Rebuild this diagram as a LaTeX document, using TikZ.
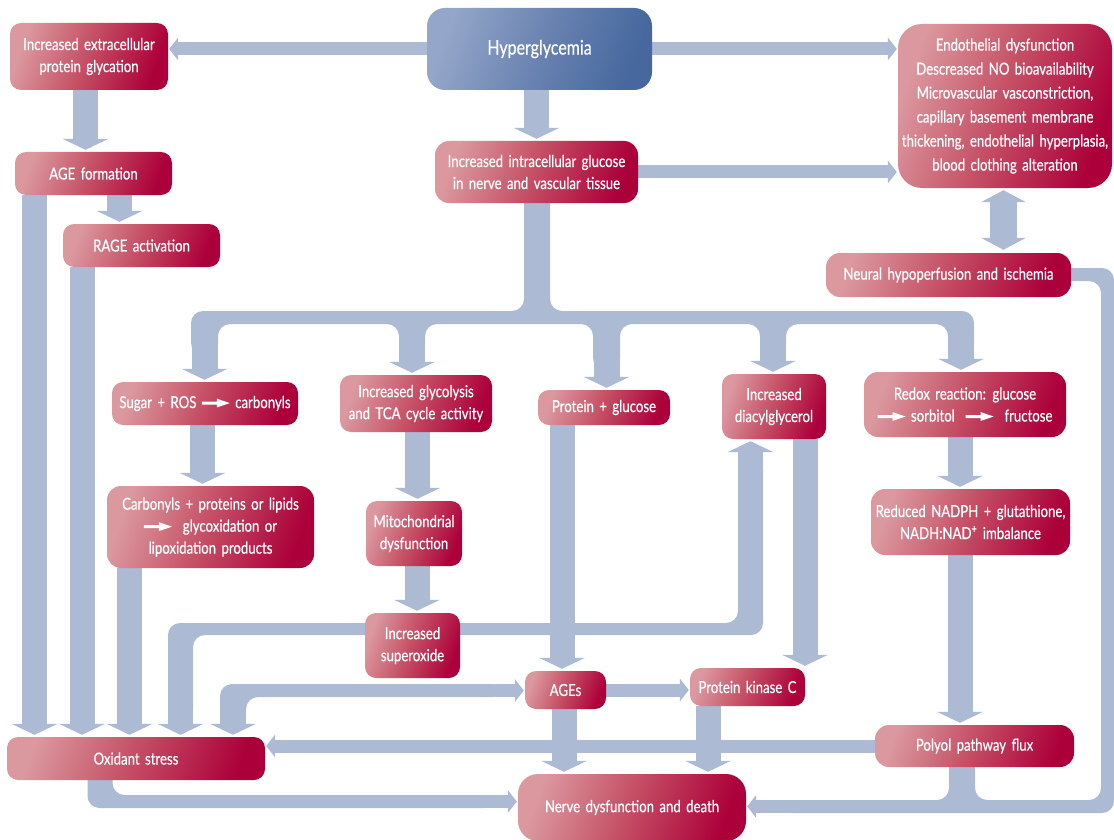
\documentclass[tikz,border=0pt]{standalone}
\usepackage{fontspec}
\setmainfont{Lato}[FakeStretch=0.8,FakeBold=0.45,WordSpace=1.6]
\usetikzlibrary{calc,backgrounds}
\definecolor{bandc}{RGB}{173,186,212}
\definecolor{crL}{RGB}{219,152,158}
\definecolor{crM}{RGB}{196,76,99}
\definecolor{crD}{RGB}{172,0,58}
\definecolor{blL}{RGB}{148,166,201}
\definecolor{blM}{RGB}{106,131,177}
\definecolor{blD}{RGB}{70,104,158}
\pgfarrowsdeclare{bigtip}{bigtip}{\pgfarrowsleftextend{0pt}\pgfarrowsrightextend{11pt}}{\pgfpathmoveto{\pgfqpoint{11pt}{0pt}}\pgfpathlineto{\pgfqpoint{0pt}{23pt}}\pgfpathlineto{\pgfqpoint{0pt}{-23pt}}\pgfpathclose\pgfusepathqfill}
\pgfarrowsdeclare{smalltip}{smalltip}{\pgfarrowsleftextend{0pt}\pgfarrowsrightextend{9pt}}{\pgfpathmoveto{\pgfqpoint{9pt}{0pt}}\pgfpathlineto{\pgfqpoint{0pt}{11.5pt}}\pgfpathlineto{\pgfqpoint{0pt}{-11.5pt}}\pgfpathclose\pgfusepathqfill}
\pgfarrowsdeclare{midtip}{midtip}{\pgfarrowsleftextend{0pt}\pgfarrowsrightextend{12pt}}{\pgfpathmoveto{\pgfqpoint{12pt}{0pt}}\pgfpathlineto{\pgfqpoint{0pt}{22.5pt}}\pgfpathlineto{\pgfqpoint{0pt}{-22.5pt}}\pgfpathclose\pgfusepathqfill}
\newcommand\fs{\fontsize{16.5}{22}\selectfont}
\newsavebox\rarr
\begin{document}
\sbox\rarr{\begin{pgfpicture}\pgfsetbaseline{-5pt}\pgfsetfillcolor{white}\pgfpathrectangle{\pgfpoint{0pt}{-1.5pt}}{\pgfpoint{17pt}{3pt}}\pgfpathmoveto{\pgfpoint{15pt}{-4.4pt}}\pgfpathlineto{\pgfpoint{28pt}{0pt}}\pgfpathlineto{\pgfpoint{15pt}{4.4pt}}\pgfpathclose\pgfusepath{fill}\end{pgfpicture}}
\begin{tikzpicture}[x=1pt,y=-1pt,
  rbox/.style={rounded corners=11pt, left color=crL, right color=crD, middle color=crM, shading angle=70, text=white, align=center, inner sep=0pt, font=\fs},
  bluebox/.style={left color=blL, right color=blD, middle color=blM, shading angle=70},
  sz/.style 2 args={minimum width=#1pt, minimum height=#2pt},
  wb/.style={color=bandc, line width=25pt, shorten >=2pt},
  nb/.style={color=bandc, line width=13pt, shorten >=1pt},
  poly/.style={fill=bandc, rounded corners=12pt}]
\useasboundingbox (0,0) rectangle (1114,840);

% ---------- nodes ----------
\node[rbox, sz={158}{67}] (ext) at (89,56.5) {Increased extracellular\\protein glycation};
\node[rbox, bluebox, rounded corners=18pt, sz={225}{82}, font=\fontsize{20}{22}\selectfont] (hyp) at (539.5,49) {Hyperglycemia};
\node[rbox, rounded corners=24pt, sz={214}{164}, font=\fontsize{16.5}{24}\selectfont] (endo) at (1005,106) {Endothelial dysfunction\\Descreased NO bioavailability\\Microvascular vasconstriction,\\capillary basement membrane\\thickening, endothelial hyperplasia,\\blood clothing alteration};
\node[rbox, sz={157}{43}] (agef) at (93.5,173.5) {AGE formation};
\node[rbox, sz={157}{43}] (rage) at (141.5,245.5) {RAGE activation};
\node[rbox, rounded corners=14pt, sz={203}{62}] (intra) at (536.5,172) {Increased intracellular glucose\\in nerve and vascular tissue};
\node[rbox, rounded corners=14pt, sz={245}{44}] (neural) at (948.5,275) {Neural hypoperfusion and ischemia};
\node[rbox, sz={186}{43}] (sugar) at (205,403.5) {Sugar + ROS \usebox\rarr\ carbonyls};
\node[rbox, sz={152}{57}] (glyc) at (416,403.5) {Increased glycolysis\\and TCA cycle activity};
\node[rbox, sz={132}{35}] (prot) at (604,407.5) {Protein + glucose};
\node[rbox, sz={104}{65}] (dag) at (774,406.5) {Increased\\diacylglycerol};
\node[rbox, rounded corners=14pt, sz={202}{65}] (redox) at (965,404.5) {Redox reaction: glucose\\\usebox\rarr\ sorbitol \ \usebox\rarr\ \ fructose};
\node[rbox, rounded corners=14pt, sz={207}{82}] (carb) at (210.5,527) {Carbonyls + proteins or lipids\\\usebox\rarr\ \ glycoxidation or\\lipoxidation products};
\node[rbox, sz={96}{65}] (mito) at (414,533.5) {Mitochondrial\\dysfunction};
\node[rbox, rounded corners=14pt, sz={199}{66}] (nadph) at (970.5,522) {Reduced NADPH + glutathione,\\NADH:NAD\textsuperscript{+} imbalance};
\node[rbox, sz={95}{65}] (super) at (412.5,645.5) {Increased\\superoxide};
\node[rbox, sz={81}{38}] (ages) at (565.5,690) {AGEs};
\node[rbox, sz={115}{38}] (pkc) at (747.5,687) {Protein kinase C};
\node[rbox, rounded corners=14pt, sz={199}{42}] (polyol) at (974.5,746) {Polyol pathway flux};
\node[rbox, sz={258}{43}] (ox) at (136,758.5) {Oxidant stress};
\node[rbox, rounded corners=20pt, sz={228}{67}] (nerve) at (632,807.5) {Nerve dysfunction and death};

% ---------- connectors ----------
\begin{pgfonlayer}{background}
\fill[white] (0,0) rectangle (1114,840);
% top level
\draw[nb,-smalltip] (hyp.west) -- (hyp.west -| ext.east);
\draw[nb,-smalltip] (hyp.east) -- (hyp.east -| endo.west);
\draw[wb,-bigtip] (intra.north |- hyp.south) -- (intra.north);
\draw[nb,-smalltip] (intra.east) -- (intra.east -| endo.west);
\draw[color=bandc, line width=27pt, midtip-midtip, shorten <=2pt, shorten >=3pt] ($(endo.south)+(-1.5,0)$) -- ($(endo.south |- neural.north)+(-1.5,0)$);
% left column
\draw[wb,-bigtip] ($(ext.south)+(-3.5,0)$) -- ($(ext.south |- agef.north)+(-3.5,0)$);
\draw[wb,-bigtip] ($(agef.south)+(26,0)$) -- ($(agef.south |- rage.north)+(26,0)$);
\draw[wb,-bigtip] ($(agef.south)+(-59,0)$) -- ($(agef.south |- ox.north)+(-59,0)$);
\draw[wb,-bigtip] ($(rage.south)+(-59.5,0)$) -- ($(rage.south |- ox.north)+(-59.5,0)$);
\draw[wb,-bigtip] ($(carb.south)+(-81,0)$) -- ($(carb.south |- ox.north)+(-81,0)$);
\draw[wb,-bigtip] ($(sugar.south)+(-2.5,0)$) -- ($(sugar.south |- carb.north)+(-2.5,0)$);
\draw[wb,-bigtip] ($(glyc.south)+(1.5,0)$) -- ($(glyc.south |- mito.north)+(1.5,0)$);
\draw[wb,-bigtip] ($(mito.south)+(3,0)$) -- ($(mito.south |- super.north)+(3,0)$);
\draw[wb,-bigtip] ($(prot.south)+(-42,0)$) -- ($(prot.south |- ages.north)+(-42,0)$);
\draw[wb,-bigtip] ($(dag.south)+(31,0)$) -- ($(dag.south |- pkc.north)+(31,0)$);
\draw[nb,-smalltip] (ages.east) -- (ages.east -| pkc.west);
\draw[wb,-bigtip] ($(ages.south)+(-1.5,0)$) -- ($(ages.south |- nerve.north)+(-1.5,0)$);
\draw[wb,-bigtip] ($(pkc.south)+(-39.5,0)$) -- ($(pkc.south |- nerve.north)+(-39.5,0)$);
\draw[nb,-smalltip] (polyol.west) -- (polyol.west -| ox.east);
\draw[wb,-bigtip] ($(redox.south)+(-5,0)$) -- ($(redox.south |- nadph.north)+(-5,0)$);
\draw[wb,-bigtip] ($(nadph.south)+(-10.5,0)$) -- ($(nadph.south |- polyol.north)+(-10.5,0)$);
% distribution tree from intracellular glucose
\fill[poly] (524,190) -- (550,190) -- (550,311) -- (974,311) -- (974,355) -- (948,355) -- (948,324) -- (786,324) -- (786,355) -- (760,355) -- (760,324) -- (620,324) -- (620,370) -- (593,370) -- (593,324) -- (425,324) -- (425,355) -- (399,355) -- (399,324) -- (218,324) -- (218,355) -- (191,355) -- (191,311) -- (524,311) -- cycle;
\draw[wb,line width=26pt,-bigtip] ($(sugar.north)+(-0.5,-42)$) -- ($(sugar.north)+(-0.5,0)$);
\draw[wb,line width=26pt,-bigtip] ($(glyc.north)+(-4,-35)$) -- ($(glyc.north)+(-4,0)$);
\draw[wb,line width=26pt,-bigtip] ($(prot.north)+(2.5,-50)$) -- ($(prot.north)+(2.5,0)$);
\draw[wb,line width=26pt,-bigtip] ($(dag.north)+(-1,-34)$) -- ($(dag.north)+(-1,0)$);
\draw[wb,line width=26pt,-bigtip] ($(redox.north)+(-4,-32)$) -- ($(redox.north)+(-4,0)$);
% superoxide to oxidant stress and to diacylglycerol
\fill[poly] (400,623) -- (168,623) -- (168,722) -- (193,722) -- (193,635) -- (400,635) -- cycle;
\draw[wb,-bigtip] ($(ox.north)+(44.5,-45)$) -- ($(ox.north)+(44.5,0)$);
\fill[poly] (430,623) -- (738,623) -- (738,458) -- (763,458) -- (763,635) -- (430,635) -- cycle;
\draw[wb,-bigtip] ($(dag.south)+(-23.5,40)$) -- ($(dag.south)+(-23.5,0)$);
% oxidant stress <-> AGEs
\fill[poly] (505,684) -- (220,684) -- (220,722) -- (246,722) -- (246,697) -- (505,697) -- cycle;
\draw[wb,line width=26pt,-bigtip] ($(ox.north)+(97,-40)$) -- ($(ox.north)+(97,0)$);
\draw[nb,-smalltip] ($(ages.west)+(-30,0.5)$) -- ($(ages.west)+(0,0.5)$);
% oxidant stress to nerve
\fill[poly] (87.5,765) -- (87.5,808) -- (495,808) -- (495,795) -- (112.5,795) -- (112.5,765) -- cycle;
\draw[nb,-smalltip] ($(nerve.west)+(-40,-6)$) -- ($(nerve.west)+(0,-6)$);
% neural hypoperfusion and polyol to nerve
\fill[poly] (1050,268) -- (1114,268) -- (1114,813) -- (780,813) -- (780,800) -- (949,800) -- (949,750) -- (975,750) -- (975,800) -- (1101,800) -- (1101,281) -- (1050,281) -- cycle;
\draw[nb,-smalltip] ($(nerve.east)+(50,-1)$) -- ($(nerve.east)+(0,-1)$);
\end{pgfonlayer}
\end{tikzpicture}
\end{document}
